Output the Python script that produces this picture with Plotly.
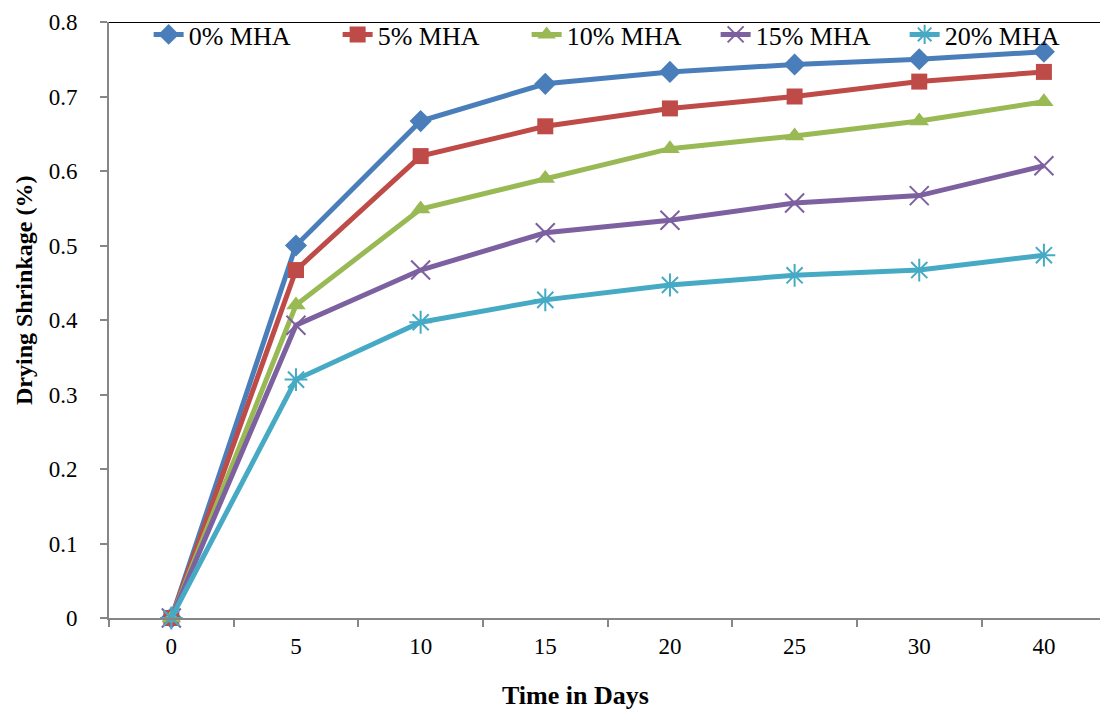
import plotly.graph_objects as go

days = ["0", "5", "10", "15", "20", "25", "30", "40"]
mha0 = [0, 0.500, 0.667, 0.717, 0.733, 0.743, 0.750, 0.760]
mha5 = [0, 0.467, 0.620, 0.660, 0.684, 0.700, 0.720, 0.733]
mha10 = [0, 0.420, 0.549, 0.590, 0.630, 0.647, 0.667, 0.693]
mha15 = [0, 0.393, 0.467, 0.517, 0.534, 0.557, 0.567, 0.607]
mha20 = [0, 0.320, 0.397, 0.427, 0.447, 0.460, 0.467, 0.487]

names = ["0% MHA", "5% MHA", "10% MHA", "15% MHA", "20% MHA"]
series = [mha0, mha5, mha10, mha15, mha20]
colors = ["#4A7EBB", "#BE4B48", "#98B954", "#7D60A0", "#46AAC5"]
symbols = ["diamond", "square", "triangle-up", "x-thin", "asterisk"]
sizes = [17, 16, 17, 19, 19]

FONT = "Liberation Serif, Times New Roman, serif"
fig = go.Figure()
for n, s, c, sym, sz in zip(names, series, colors, symbols, sizes):
    thin = sym in ("x-thin", "asterisk")
    fig.add_trace(go.Scatter(
        x=days, y=s, name=n, mode="lines+markers",
        line=dict(color=c, width=5),
        marker=dict(symbol=sym, size=sz, color=c,
                    line=dict(color=c, width=2 if thin else 0)),
        cliponaxis=False,
    ))

fig.update_layout(
    width=1100, height=710,
    margin=dict(l=109, r=0, t=22, b=92, autoexpand=False),
    paper_bgcolor="white", plot_bgcolor="white",
    font=dict(family=FONT, size=23, color="black"),
    showlegend=True,
    legend=dict(orientation="h", x=0.040, y=0.979, yanchor="middle", xanchor="left",
                bgcolor="rgba(0,0,0,0)", font=dict(family=FONT, size=26),
                itemwidth=30, entrywidth=144, tracegroupgap=0),
    xaxis=dict(type="category", range=[-0.5, 7.45], showgrid=False, zeroline=False,
               showline=True, linecolor="#868686", linewidth=2,
               ticks="outside", tickson="boundaries", ticklen=7, tickcolor="#868686",
               tickwidth=1.5, ticklabelstandoff=6, tickfont=dict(family=FONT, size=23)),
    yaxis=dict(range=[0, 0.8], dtick=0.1, showgrid=False, zeroline=False,
               showline=True, linecolor="#868686", linewidth=2,
               ticks="outside", ticklen=7, tickcolor="#868686", tickwidth=1.5,
               ticklabelstandoff=18, tickformat="~g", tickfont=dict(family=FONT, size=23)),
)

fig.add_shape(type="line", xref="paper", yref="y", x0=0, x1=1, y0=0.8, y1=0.8,
              line=dict(color="black", width=2))

fig.add_annotation(text="<b>Drying Shrinkage (%)</b>", xref="paper", yref="paper",
                   x=-0.086, y=0.55, xanchor="center", yanchor="middle", textangle=-90,
                   showarrow=False, font=dict(family=FONT, size=24))
fig.add_annotation(text="<b>Time in Days</b>", xref="paper", yref="paper",
                   x=0.471, y=-0.13, xanchor="center", yanchor="middle",
                   showarrow=False, font=dict(family=FONT, size=26))

fig.write_html("out.html")
